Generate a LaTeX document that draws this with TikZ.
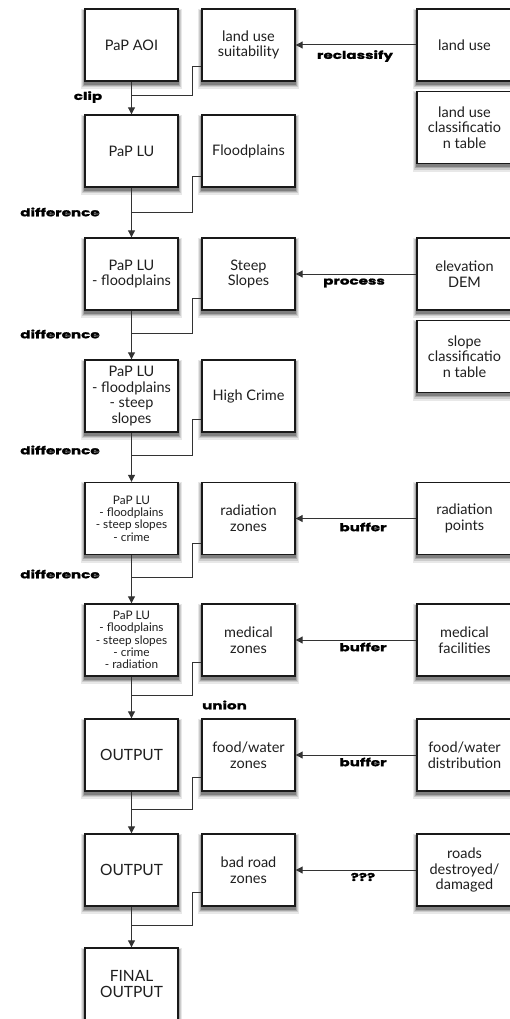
\documentclass[tikz,border=0pt]{standalone}
\usepackage{fontspec}
\setmainfont{Lato}
\newfontfamily\lblfont{Poppins}[BoldFeatures={FakeStretch=1.4,FakeBold=1.2}]
\usetikzlibrary{arrows.meta,backgrounds}
\begin{document}
\begin{tikzpicture}[x=1pt,y=-1pt,
  box/.style={draw=black!90,line width=1.4pt,fill=white,minimum width=93pt,
    minimum height=72pt,inner sep=1pt,align=center,text=black!88,
    font=\fontsize{14.5}{15.7}\selectfont},
  smallbox/.style={box,font=\fontsize{11.8}{12.4}\selectfont},
  bigbox/.style={box,font=\fontsize{15.5}{15.5}\selectfont},
  widebox/.style={box,minimum width=95pt},
  shadeA/.style={draw=black!9,fill=black!9,line width=7pt},
  shadeB/.style={draw=black!20,fill=black!20,line width=4.5pt},
  shadeC/.style={draw=black!34,fill=black!34,line width=2.5pt},
  shadeD/.style={draw=black!50,fill=black!50,line width=1pt},
  link/.style={draw=black!80,line width=1pt},
  arr/.style={link,-{Triangle[length=7pt,width=7pt]}},
  lbl/.style={font=\lblfont\bfseries\fontsize{10.8}{12}\selectfont,text=black,inner sep=0pt}]
\useasboundingbox (0,0) rectangle (510,1019);

% main column
\node[box] (m1) at (131.5,45) {PaP AOI};
\node[box] (m2) at (131.5,151) {PaP LU};
\node[box] (m3) at (131.5,274) {PaP LU\\- floodplains};
\node[box] (m4) at (131.5,396) {PaP LU\\- floodplains\\- steep\\slopes};
\node[smallbox] (m5) at (131.5,518.5) {PaP LU\\- floodplains\\- steep slopes\\- crime};
\node[smallbox] (m6) at (131.5,640) {PaP LU\\- floodplains\\- steep slopes\\- crime\\- radiation};
\node[bigbox] (m7) at (131.5,755) {OUTPUT};
\node[bigbox] (m8) at (131.5,870) {OUTPUT};
\node[bigbox] (m9) at (131.5,984) {FINAL\\OUTPUT};

% side column
\node[box] (s1) at (248.5,45) {land use\\suitability};
\node[box] (s2) at (248.5,151) {Floodplains};
\node[box] (s3) at (248.5,274) {Steep\\Slopes};
\node[box] (s4) at (248.5,396) {High Crime};
\node[box] (s5) at (248.5,518.5) {radiation\\zones};
\node[box] (s6) at (248.5,640) {medical\\zones};
\node[box] (s7) at (248.5,755) {food/water\\zones};
\node[box] (s8) at (248.5,870) {bad road\\zones};

% right column
\node[widebox] (r1) at (464.5,45) {land use};
\node[widebox] (t1) at (464.5,127.5) {land use\\classificatio\\n table};
\node[widebox] (r3) at (464.5,274) {elevation\\DEM};
\node[widebox] (t3) at (464.5,356.5) {slope\\classificatio\\n table};
\node[widebox] (r5) at (464.5,518.5) {radiation\\points};
\node[widebox] (r6) at (464.5,640) {medical\\facilities};
\node[widebox] (r7) at (464.5,755) {food/water\\distribution};
\node[widebox] (r8) at (464.5,870) {roads\\destroyed/\\damaged};

% soft shadows beneath the boxes
\begin{scope}[on background layer]
\foreach \n in {m1,m2,m3,m4,m5,m6,m7,m8,m9,s1,s2,s3,s4,s5,s6,s7,s8,r1,t1,r3,t3,r5,r6,r7,r8} {
  \path[shadeA] ([yshift=-4pt]\n.south west) rectangle ([yshift=-4pt]\n.north east);
  \path[shadeB] ([yshift=-3.5pt]\n.south west) rectangle ([yshift=-3.5pt]\n.north east);
  \path[shadeC] ([yshift=-3pt]\n.south west) rectangle ([yshift=-3pt]\n.north east);
  \path[shadeD] ([yshift=-2.5pt]\n.south west) rectangle ([yshift=-2.5pt]\n.north east);
}
\end{scope}

% main flow
\draw[arr] (m1) -- (m2);
\draw[arr] (m2) -- (m3);
\draw[arr] (m3) -- (m4);
\draw[arr] (m4) -- (m5);
\draw[arr] (m5) -- (m6);
\draw[arr] (m6) -- (m7);
\draw[arr] (m7) -- (m8);
\draw[arr] (m8) -- (m9);

% junctions
\coordinate (j1) at (131.5,96);
\coordinate (j2) at (131.5,212);
\coordinate (j3) at (131.5,333);
\coordinate (j4) at (131.5,455);
\coordinate (j5) at (131.5,577);
\coordinate (j6) at (131.5,695);
\coordinate (j7) at (131.5,809);
\coordinate (j8) at (131.5,925);

\draw[link] ([yshift=15pt]s1.south west) -- ++(-9pt,0) |- (j1);
\draw[link] ([yshift=11pt]s2.south west) -- ++(-9pt,0) |- (j2);
\draw[link] ([yshift=12pt]s3.south west) -- ++(-9pt,0) |- (j3);
\draw[link] ([yshift=13pt]s4.south west) -- ++(-9pt,0) |- (j4);
\draw[link] ([yshift=12pt]s5.south west) -- ++(-9pt,0) |- (j5);
\draw[link] ([yshift=14pt]s6.south west) -- ++(-9pt,0) |- (j6);
\draw[link] ([yshift=14pt]s7.south west) -- ++(-9pt,0) |- (j7);
\draw[link] ([yshift=14pt]s8.south west) -- ++(-9pt,0) |- (j8);

% right inputs
\draw[arr] (r1) -- (s1);
\draw[arr] (r3) -- (s3);
\draw[arr] (r5) -- (s5);
\draw[arr] (r6) -- (s6);
\draw[arr] (r7) -- (s7);
\draw[arr] (r8) -- (s8);

% labels
\node[lbl] (lclip) at (88,97) {clip};
\node[lbl] (ld1) at (60,212) {difference};
\node[lbl] (ld2) at (60,334) {difference};
\node[lbl] (ld3) at (60,450) {difference};
\node[lbl] (ld4) at (60,574) {difference};
\node[lbl] (lun) at (224.5,705) {union};
\node[lbl] (lrc) at (355,56) {reclassify};
\node[lbl] (lpr) at (354,283) {process};
\node[lbl] (lb1) at (363,527) {buffer};
\node[lbl] (lb2) at (363,647) {buffer};
\node[lbl] (lb3) at (363,762) {buffer};
\node[lbl] (lq) at (363,877) {???};
\end{tikzpicture}
\end{document}
